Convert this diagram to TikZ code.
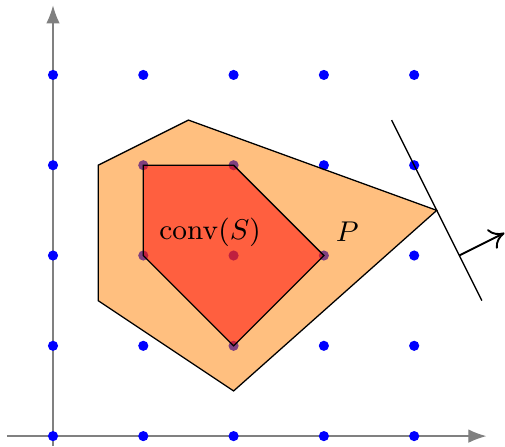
\documentclass[tikz,border=0pt]{standalone}
\usetikzlibrary{arrows.meta}
\begin{document}
\begin{tikzpicture}[x=1cm,y=1cm,
  axis/.style={gray,-{Latex[length=2mm,width=1.5mm]}},
  gdot/.style={circle,fill=blue,inner sep=0pt,minimum size=3.2pt},
  lbl/.style={font=\fontsize{9}{11}\selectfont}]
\useasboundingbox (-0.587,-0.11) rectangle (5.006,4.83);
\coordinate (xa) at (-0.51,0);
\coordinate (xb) at (4.8,0);
\coordinate (ya) at (0,-0.11);
\coordinate (yb) at (0,4.77);
\draw[axis] (xa) -- (xb);
\draw[axis] (ya) -- (yb);
\foreach \i in {0,...,4}{
  \foreach \j in {0,...,4}{
    \node[gdot] (g\i\j) at (\i,\j) {};
  }
}
\coordinate (p1) at (0.5,3);
\coordinate (p2) at (1.5,3.5);
\coordinate (p3) at (4.25,2.5);
\coordinate (p4) at (2,0.5);
\coordinate (p5) at (0.5,1.5);
\draw[fill=orange,fill opacity=0.5] (p1) -- (p2) -- (p3) -- (p4) -- (p5) -- cycle;
\draw[fill=red,fill opacity=0.5] (g13.center) -- (g23.center) -- (g32.center) -- (g21.center) -- (g12.center) -- cycle;
\node[lbl] (conv) at (1.74,2.26) {$\mathrm{conv}(S)$};
\node[lbl] (P) at (3.26,2.26) {$P$};
\coordinate (la) at (3.75,3.5);
\coordinate (lb) at (4.75,1.5);
\coordinate (aa) at (4.5,2);
\coordinate (ab) at (5.0,2.25);
\draw[black] (la) -- (lb);
\draw[black,semithick,-{To[length=1.6mm,width=2.4mm]}] (aa) -- (ab);
\end{tikzpicture}
\end{document}
